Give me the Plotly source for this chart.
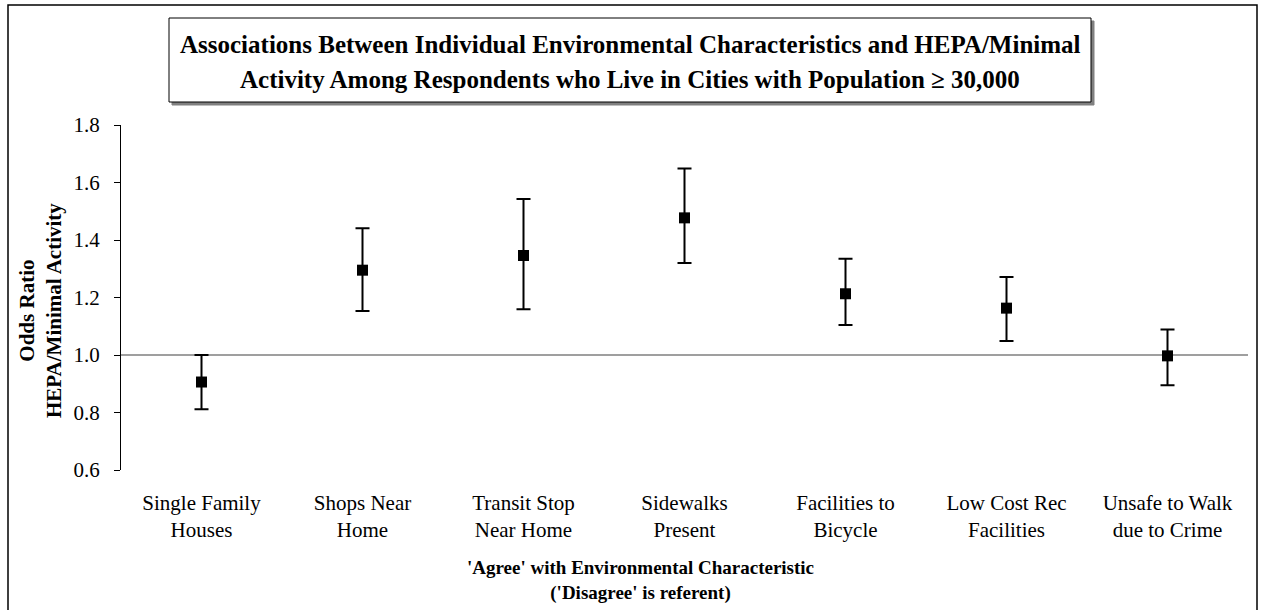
import plotly.graph_objects as go

categories = ["Single Family<br>Houses", "Shops Near<br>Home", "Transit Stop<br>Near Home",
              "Sidewalks<br>Present", "Facilities to<br>Bicycle", "Low Cost Rec<br>Facilities",
              "Unsafe to Walk<br>due to Crime"]
odds_ratio = [0.906, 1.295, 1.346, 1.477, 1.213, 1.163, 0.997]
ci_low = [0.811, 1.153, 1.159, 1.320, 1.104, 1.049, 0.895]
ci_high = [1.000, 1.441, 1.543, 1.649, 1.335, 1.271, 1.089]
y_ticks = [0.6, 0.8, 1.0, 1.2, 1.4, 1.6, 1.8]

W, H = 1261, 610
L, R, T, B = 121, 13, 125, 140
PW, PH = W - L - R, H - T - B

def px(x):
    return (x - L) / PW

def py(y):
    return (H - B - y) / PH

FONT = "Liberation Serif"

fig = go.Figure()
fig.add_trace(go.Scatter(
    x=categories, y=odds_ratio, mode="markers",
    marker=dict(symbol="square", size=11, color="black"),
    error_y=dict(type="data", symmetric=False,
                 array=[h - v for h, v in zip(ci_high, odds_ratio)],
                 arrayminus=[v - l for v, l in zip(odds_ratio, ci_low)],
                 color="black", thickness=2, width=7),
    showlegend=False,
))

shapes = [
    dict(type="line", xref="paper", yref="y", x0=0, x1=1, y0=1.0, y1=1.0,
         line=dict(color="#7f7f7f", width=1.5), layer="below"),
    dict(type="rect", xref="paper", yref="paper", x0=px(8), x1=px(1257), y0=py(5), y1=py(615),
         line=dict(color="black", width=1.5)),
    dict(type="rect", xref="paper", yref="paper", x0=px(172), x1=px(1094), y0=py(21), y1=py(105),
         line=dict(color="#808080", width=1), fillcolor="#808080"),
    dict(type="rect", xref="paper", yref="paper", x0=px(169), x1=px(1091), y0=py(18), y1=py(102),
         line=dict(color="black", width=1), fillcolor="white"),
]

annotations = [
    dict(text="<b>Associations Between Individual Environmental Characteristics and HEPA/Minimal</b>",
         xref="paper", yref="paper", x=px(630), y=py(44), showarrow=False,
         font=dict(family=FONT, size=25, color="black"), xanchor="center", yanchor="middle"),
    dict(text="<b>Activity Among Respondents who Live in Cities with Population \u2265 30,000</b>",
         xref="paper", yref="paper", x=px(630), y=py(79), showarrow=False,
         font=dict(family=FONT, size=25, color="black"), xanchor="center", yanchor="middle"),
    dict(text="<b>'Agree' with Environmental Characteristic<br>('Disagree' is referent)</b>",
         xref="paper", yref="paper", x=px(640), y=py(580), showarrow=False,
         font=dict(family=FONT, size=19, color="black"), xanchor="center", yanchor="middle"),
    dict(text="<b>Odds Ratio<br>HEPA/Minimal Activity</b>", textangle=-90,
         xref="paper", yref="paper", x=px(40), y=py(310), showarrow=False,
         font=dict(family=FONT, size=21, color="black"), xanchor="center", yanchor="middle"),
]

fig.update_layout(
    width=W, height=H,
    margin=dict(l=L, r=R, t=T, b=B, autoexpand=False),
    paper_bgcolor="white", plot_bgcolor="white",
    font=dict(family=FONT, size=19, color="black"),
    shapes=shapes, annotations=annotations,
    xaxis=dict(type="category", range=[-0.5, len(categories) - 0.5], showline=False,
               showgrid=False, zeroline=False, ticks="", tickfont=dict(family=FONT, size=21),
               ticklabelstandoff=18),
    yaxis=dict(range=[0.6, 1.8], tickvals=y_ticks, ticktext=[f"{v:.1f}" for v in y_ticks],
               showline=True, linecolor="black", linewidth=1, ticks="outside", ticklen=6,
               tickcolor="black", showgrid=False, zeroline=False,
               tickfont=dict(family=FONT, size=21), ticklabelstandoff=10),
)

fig.write_html("out.html", config={"displayModeBar": False},
               post_script="document.body.style.margin='0';")
